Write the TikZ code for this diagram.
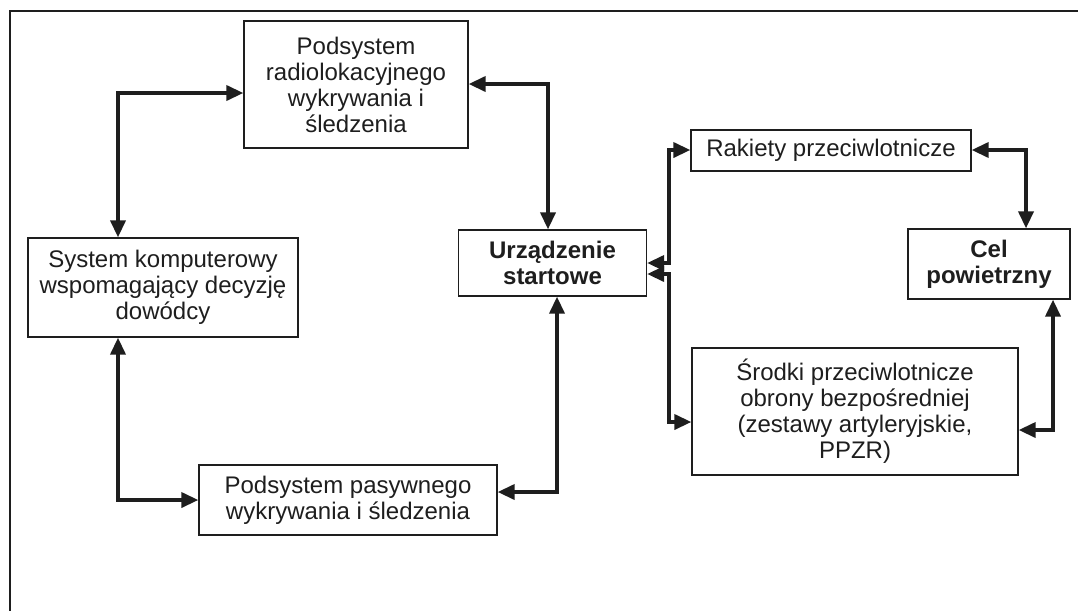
\documentclass[tikz,border=0pt]{standalone}
\usepackage{fontspec}
\setmainfont{Liberation Sans}
\usetikzlibrary{arrows.meta}
\definecolor{ink}{HTML}{1E1E1E}
\begin{document}
\begin{tikzpicture}[x=1pt,y=-1pt,
  box/.style={draw=ink, line width=1.3pt, text=ink, inner sep=0pt, align=center,
              font=\fontsize{24}{26}\selectfont},
  boldbox/.style={box, font=\fontsize{24}{26}\selectfont\bfseries},
  link/.style={draw=ink, line width=3.6pt, line join=miter,
               {Triangle[length=17pt,width=15pt]}-{Triangle[length=17pt,width=15pt]}}
]
\useasboundingbox (0,0) rectangle (1078,611);
\fill[white] (0,0) rectangle (1078,611);

% outer frame (top and left edges only)
\draw[ink, line width=1.4pt] (1078,11) -- (10,11) -- (10,611);

% blocks
\node[box, minimum width=224pt, minimum height=127pt] (radar) at (356,84.5)
  {Podsystem\\radiolokacyjnego\\wykrywania i\\śledzenia};
\node[box, minimum width=270pt, minimum height=99pt] (comp) at (163,287.5)
  {System komputerowy\\wspomagający decyzję\\dowódcy};
\node[box, minimum width=298pt, minimum height=70pt] (passive) at (348,500)
  {Podsystem pasywnego\\wykrywania i śledzenia};
\node[boldbox, minimum width=188pt, minimum height=66pt] (launcher) at (552.5,263)
  {Urządzenie\\startowe};
\node[box, minimum width=280pt, minimum height=41pt] (missiles) at (831,150.5)
  {Rakiety przeciwlotnicze};
\node[boldbox, minimum width=162pt, minimum height=70pt] (target) at (989,264)
  {Cel\\powietrzny};
\node[box, minimum width=326pt, minimum height=127pt] (shortrange) at (855,411.5)
  {Środki przeciwlotnicze\\obrony bezpośredniej\\(zestawy artyleryjskie,\\PPZR)};

% bend points of the connectors
\coordinate (kA) at (118,93);
\coordinate (kB) at (548,84);
\coordinate (kC) at (118,500);
\coordinate (kD) at (557,492);
\coordinate (kE) at (669,150);
\coordinate (kE2) at (669,263);
\coordinate (kF) at (669,422);
\coordinate (kF2) at (669,274);
\coordinate (kG) at (1026,150);
\coordinate (kH) at (1053,430);

% connectors
\draw[link] (comp.north -| kA) |- (radar.west |- kA);
\draw[link] (radar.east |- kB) -| (launcher.north -| kB);
\draw[link] (comp.south -| kC) |- (passive.west |- kC);
\draw[link] (launcher.south -| kD) |- (passive.east |- kD);
\draw[link] (missiles.west |- kE) -- (kE) -- (kE2) -- (launcher.east |- kE2);
\draw[link] (shortrange.west |- kF) -- (kF) -- (kF2) -- (launcher.east |- kF2);
\draw[link] (missiles.east |- kG) -| (target.north -| kG);
\draw[link] (target.south -| kH) |- (shortrange.east |- kH);
\end{tikzpicture}
\end{document}
